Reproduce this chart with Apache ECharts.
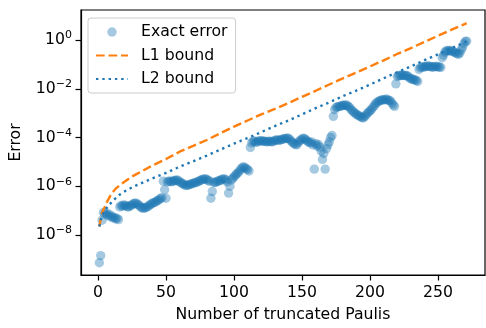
<!DOCTYPE html>
<html>
<head>
<meta charset="utf-8">
<script src="https://cdn.jsdelivr.net/npm/echarts@6/dist/echarts.min.js"></script>
<style>
  html, body { margin: 0; padding: 0; background: #fff; }
  #chart { width: 486px; height: 328px; }
</style>
</head>
<body>
<div id="chart"></div>
<script>
// exact truncation error, one point per number of truncated Paulis (1 .. 271)
const exactError = [
  7.1e-10, 1.4e-9, 4.0e-8, 8.3e-8, 7.1e-8, 7.9e-8, 6.3e-8, 7.1e-8, 5.6e-8, 6.0e-8,
  5.0e-8, 5.2e-8, 4.5e-8, 4.8e-8, 4.2e-8, 1.4e-7, 1.6e-7, 1.5e-7, 1.7e-7, 1.6e-7,
  1.5e-7, 1.4e-7, 1.45e-7, 1.6e-7, 1.7e-7, 1.9e-7, 2.0e-7, 2.0e-7, 1.8e-7, 1.7e-7,
  1.45e-7, 1.3e-7, 1.26e-7, 1.26e-7, 1.3e-7, 1.4e-7, 1.5e-7, 1.7e-7, 1.8e-7, 2.0e-7,
  2.1e-7, 2.2e-7, 2.4e-7, 2.6e-7, 2.8e-7, 3.2e-7, 3.3e-7, 1.6e-6, 7.1e-7, 3.2e-7,
  1.5e-6, 1.6e-6, 1.6e-6, 1.5e-6, 1.6e-6, 1.7e-6, 1.7e-6, 1.8e-6, 1.7e-6, 1.5e-6,
  1.4e-6, 1.26e-6, 1.2e-6, 1.1e-6, 1.07e-6, 1.1e-6, 1.15e-6, 1.2e-6, 1.26e-6, 1.3e-6,
  1.4e-6, 1.4e-6, 1.5e-6, 1.6e-6, 1.7e-6, 1.8e-6, 1.9e-6, 2.0e-6, 2.0e-6, 1.9e-6,
  1.7e-6, 1.6e-6, 3.2e-7, 6.0e-7, 1.45e-6, 1.4e-6, 1.5e-6, 1.6e-6, 1.7e-6, 1.7e-6,
  1.9e-6, 2.0e-6, 2.0e-6, 1.8e-6, 1.5e-6, 5.2e-7, 1.0e-6, 1.8e-6, 2.1e-6, 2.4e-6,
  2.8e-6, 3.2e-6, 3.6e-6, 4.2e-6, 5.0e-6, 5.8e-6, 6.3e-6, 5.8e-6, 5.2e-6, 4.8e-6,
  4.2e-6, 3.9e-5, 6.0e-5, 7.2e-5, 7.1e-5, 6.3e-5, 6.6e-5, 7.1e-5, 7.4e-5, 7.2e-5,
  7.1e-5, 7.2e-5, 6.9e-5, 6.6e-5, 6.8e-5, 7.1e-5, 6.8e-5, 6.6e-5, 7.1e-5, 7.6e-5,
  7.9e-5, 7.9e-5, 7.6e-5, 7.9e-5, 8.3e-5, 8.7e-5, 8.9e-5, 9.1e-5, 9.3e-5, 9.3e-5,
  8.3e-5, 7.1e-5, 6.3e-5, 5.6e-5, 5.2e-5, 5.0e-5, 6.0e-5, 7.1e-5, 7.9e-5, 8.7e-5,
  9.3e-5, 8.9e-5, 7.9e-5, 7.1e-5, 6.3e-5, 6.0e-5, 6.6e-5, 5.0e-5, 5.0e-6, 5.6e-5,
  4.5e-5, 5.2e-5, 4.0e-5, 2.8e-5, 1.26e-5, 2.2e-5, 5.0e-6, 3.5e-5, 5.0e-5, 6.6e-5,
  1.0e-4, 1.2e-4, 7.4e-4, 1.4e-3, 1.7e-3, 1.8e-3, 1.9e-3, 1.9e-3, 2.0e-3, 2.1e-3,
  2.1e-3, 2.1e-3, 2.1e-3, 1.9e-3, 1.7e-3, 1.4e-3, 1.26e-3, 1.1e-3, 1.0e-3, 8.9e-4,
  8.3e-4, 7.6e-4, 7.1e-4, 6.6e-4, 6.3e-4, 7.1e-4, 8.3e-4, 1.0e-3, 1.1e-3, 1.26e-3,
  1.4e-3, 1.7e-3, 2.0e-3, 2.4e-3, 2.7e-3, 3.0e-3, 3.2e-3, 3.4e-3, 3.5e-3, 3.6e-3,
  3.5e-3, 3.8e-3, 3.5e-3, 3.3e-3, 3.2e-3, 2.6e-3, 2.2e-3, 1.9e-3, 1.6e-2, 3.2e-2,
  3.5e-2, 3.5e-2, 3.5e-2, 3.6e-2, 3.5e-2, 3.5e-2, 3.5e-2, 3.2e-2, 2.8e-2, 2.6e-2,
  2.5e-2, 2.4e-2, 2.3e-2, 2.2e-2, 2.0e-2, 6.3e-2, 7.4e-2, 7.9e-2, 7.9e-2, 7.9e-2,
  8.3e-2, 8.5e-2, 8.7e-2, 8.3e-2, 7.9e-2, 7.9e-2, 7.9e-2, 8.3e-2, 8.3e-2, 7.9e-2,
  7.9e-2, 7.6e-2, 0.19, 0.24, 0.32, 0.36, 0.38, 0.36, 0.38, 0.35,
  0.34, 0.32, 0.30, 0.28, 0.26, 0.30, 0.40, 0.50, 0.71, 0.89,
  0.91
];
// number of truncated Paulis for each error point
const truncated = exactError.map((v, i) => i + 1);

// bounds, read at these counts
const boundX = [1, 2, 3, 4, 5, 7, 10, 13, 16, 20, 25, 30, 40, 50, 60, 70, 80, 90, 100, 110,
  120, 130, 140, 150, 160, 170, 180, 190, 200, 210, 220, 230, 240, 250, 260, 270, 271];
const l1Bound = [2.2e-8, 4.5e-8, 7.9e-8, 1.1e-7, 1.4e-7, 2.5e-7, 5.0e-7, 7.9e-7, 1.1e-6, 1.6e-6,
  2.5e-6, 3.5e-6, 7.1e-6, 1.3e-5, 2.6e-5, 4.5e-5, 7.9e-5, 1.5e-4, 2.8e-4, 5.0e-4,
  8.9e-4, 1.5e-3, 2.6e-3, 4.7e-3, 8.3e-3, 1.5e-2, 2.7e-2, 4.7e-2, 8.3e-2, 0.148,
  0.27, 0.47, 0.85, 1.51, 2.69, 4.68, 5.0];
const l2Bound = [2.2e-8, 4.0e-8, 6.0e-8, 7.9e-8, 1.0e-7, 1.4e-7, 2.2e-7, 3.2e-7, 4.5e-7, 6.3e-7,
  8.9e-7, 1.2e-6, 2.1e-6, 3.5e-6, 6.3e-6, 1.05e-5, 1.8e-5, 3.2e-5, 5.6e-5, 9.5e-5,
  1.66e-4, 2.95e-4, 5.0e-4, 8.9e-4, 1.6e-3, 2.75e-3, 5.0e-3, 8.5e-3, 1.5e-2, 2.7e-2,
  4.8e-2, 8.3e-2, 0.15, 0.26, 0.47, 0.83, 0.89];

// tick labels
const xTicks = [0, 50, 100, 150, 200, 250];
const yTicks = [1e-8, 1e-6, 1e-4, 1e-2, 1];

const FONT = 'DejaVu Sans';
const FS = 15.7;

const chart = echarts.init(document.getElementById('chart'), null, {renderer: 'canvas'});

const zip = (xs, ys) => xs.map((x, i) => [x, ys[i]]);

const option = {
    animation: false,
    backgroundColor: '#fff',
    textStyle: {fontFamily: FONT, color: '#000'},
    grid: {
        left: 79, top: 10, right: 1, bottom: 48,
        show: true, borderColor: '#000', borderWidth: 1.2
    },
    legend: {
        orient: 'vertical',
        left: 88, top: 18,
        padding: [6, 8, 6, 7],
        itemGap: 7.5,
        itemWidth: 32,
        itemHeight: 9.5,
        backgroundColor: 'rgba(255,255,255,0.8)',
        borderColor: '#cccccc',
        borderWidth: 1,
        borderRadius: 3,
        textStyle: {fontFamily: FONT, fontSize: FS, color: '#000', padding: [0, 0, 0, 8]},
        data: [
            {name: 'Exact error', icon: 'circle'},
            // line entries: hide the marker the legend puts in the middle
            {name: 'L1 bound', itemStyle: {opacity: 0}},
            {name: 'L2 bound', itemStyle: {opacity: 0}}
        ]
    },
    xAxis: {
        type: 'value',
        min: -12.5, max: 284.5,
        name: 'Number of truncated Paulis',
        nameLocation: 'middle',
        nameGap: 32,
        nameTextStyle: {fontFamily: FONT, fontSize: FS, color: '#000'},
        axisLine: {show: true, onZero: false, lineStyle: {color: '#000', width: 1.2}},
        axisTick: {show: true, length: 5.5, customValues: xTicks, lineStyle: {color: '#000', width: 1.2}},
        axisLabel: {
            customValues: xTicks,
            margin: 10,
            fontFamily: FONT, fontSize: FS, color: '#000'
        },
        splitLine: {show: false}
    },
    yAxis: {
        type: 'log',
        logBase: 100,
        min: Math.pow(10, -9.65),
        max: Math.pow(10, 1.238),
        name: 'Error',
        nameLocation: 'middle',
        nameGap: 57,
        nameTextStyle: {fontFamily: FONT, fontSize: FS, color: '#000'},
        axisLine: {show: true, onZero: false, lineStyle: {color: '#000', width: 1.2}},
        axisTick: {show: true, length: 5.5, customValues: yTicks, lineStyle: {color: '#000', width: 1.2}},
        axisLabel: {
            customValues: yTicks,
            margin: 9,
            formatter: function (v) {
                const e = Math.round(Math.log10(v));
                return '{b|10}{s|' + String(e).replace('-', '\u2212') + '}';
            },
            rich: {
                b: {fontFamily: FONT, fontSize: FS, lineHeight: 20, color: '#000'},
                s: {fontFamily: FONT, fontSize: 11, lineHeight: 12, verticalAlign: 'top', color: '#000'}
            }
        },
        splitLine: {show: false}
    },
    series: [
        {
            name: 'Exact error',
            type: 'scatter',
            data: zip(truncated, exactError),
            symbol: 'circle',
            symbolSize: 9.4,
            itemStyle: {color: 'rgba(31,119,180,0.5)'},
            z: 2
        },
        {
            name: 'L1 bound',
            type: 'line',
            data: zip(boundX, l1Bound),
            symbol: 'none',
            itemStyle: {color: '#ff7f0e'},
            lineStyle: {color: '#ff7f0e', width: 2.4, type: [8.7, 3.8]},
            z: 3
        },
        {
            name: 'L2 bound',
            type: 'line',
            data: zip(boundX, l2Bound),
            symbol: 'none',
            itemStyle: {color: '#1f77b4'},
            lineStyle: {color: '#1f77b4', width: 2.4, type: [2.4, 3.9]},
            z: 3
        }
    ]
};

chart.setOption(option);
</script>
</body>
</html>
